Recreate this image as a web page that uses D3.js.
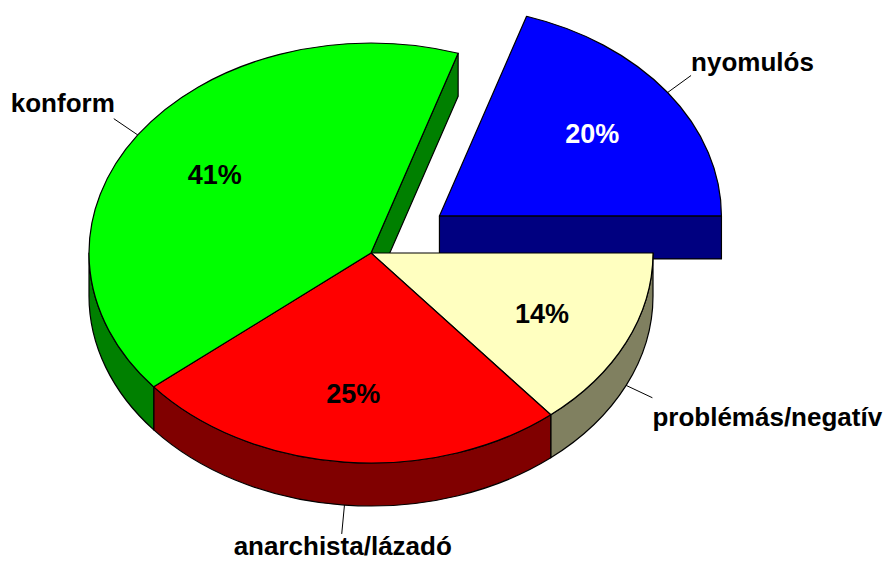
<!DOCTYPE html>
<html><head><meta charset="utf-8">
<script src="https://cdn.jsdelivr.net/npm/d3@7"></script>
<style>body{margin:0;background:#fff}svg{display:block}</style>
</head><body>
<svg id="chart" width="886" height="561"></svg>
<script>
// Data (clockwise order starting at the top-right exploded slice)
const categories = ["nyomulós", "problémás/negatív", "anarchista/lázadó", "konform"];
const values = [20, 14, 25, 41];
const percentLabels = ["20%", "14%", "25%", "41%"];
const explodedFlags = [true, false, false, false];

// Styles
const topColors = ["#0000FF", "#FFFFC0", "#FF0000", "#00FF00"];
const sideColors = ["#000080", "#808060", "#800000", "#008000"];
const pctColors = ["#FFFFFF", "#000000", "#000000", "#000000"];
// label placement relative to leader end: [anchor, dx, dy]
const labelPlace = [["start", 0, -4], ["start", 0, 28], ["middle", 1, 21], ["end", 1, -7]];

const W = 886, H = 561;
const cx = 371, cy = 253, rx = 282, ry = 210, depth = 43, explodeFrac = 0.3;
const fontFam = "'Liberation Sans', Arial, Helvetica, sans-serif";

const svg = d3.select("#chart");
const pie = d3.pie().sort(null).startAngle(Math.PI / 10).endAngle(Math.PI / 10 + 2 * Math.PI);
const arcs = pie(values).map((d, i) => {
  const mid = (d.startAngle + d.endAngle) / 2;
  const off = explodedFlags[i] ? explodeFrac : 0;
  return Object.assign(d, {
    i, mid,
    ox: cx + off * rx * Math.sin(mid),
    oy: cy - off * ry * Math.cos(mid)
  });
});

function pt(a, d, t) { return [a.ox + rx * Math.sin(t), a.oy - ry * Math.cos(t) + (d || 0)]; }
function f(p) { return p[0].toFixed(2) + "," + p[1].toFixed(2); }

function topPath(a) {
  const p0 = pt(a, 0, a.startAngle), p1 = pt(a, 0, a.endAngle);
  const large = (a.endAngle - a.startAngle) > Math.PI ? 1 : 0;
  return `M${a.ox},${a.oy}L${f(p0)}A${rx},${ry} 0 ${large} 1 ${f(p1)}Z`;
}
function wallPath(a, t0, t1) {
  const p0 = pt(a, 0, t0), p1 = pt(a, 0, t1), q1 = pt(a, depth, t1), q0 = pt(a, depth, t0);
  const large = (t1 - t0) > Math.PI ? 1 : 0;
  return `M${f(p0)}A${rx},${ry} 0 ${large} 1 ${f(p1)}L${f(q1)}A${rx},${ry} 0 ${large} 0 ${f(q0)}Z`;
}
function facePath(a, t) {
  const p = pt(a, 0, t), q = pt(a, depth, t);
  return `M${a.ox},${a.oy}L${f(p)}L${f(q)}L${a.ox},${a.oy + depth}Z`;
}
// front intervals of a slice ([pi/2, 3pi/2] modulo 2pi)
function frontParts(a) {
  const parts = [];
  for (let k = -1; k <= 1; k++) {
    const lo = Math.PI / 2 + 2 * Math.PI * k, hi = 3 * Math.PI / 2 + 2 * Math.PI * k;
    const s = Math.max(a.startAngle, lo), e = Math.min(a.endAngle, hi);
    if (e - s > 1e-6) parts.push([s, e]);
  }
  return parts;
}
const n = arcs.length;
function drawSlice(g, a) {
  const prev = arcs[(a.i - 1 + n) % n], next = arcs[(a.i + 1) % n];
  const expStart = explodedFlags[a.i] || explodedFlags[prev.i];
  const expEnd = explodedFlags[a.i] || explodedFlags[next.i];
  // radial faces
  if (expEnd && Math.cos(a.endAngle + Math.PI / 2) < 0)
    g.append("path").attr("d", facePath(a, a.endAngle)).attr("fill", sideColors[a.i]);
  if (expStart && Math.cos(a.startAngle - Math.PI / 2) < 0)
    g.append("path").attr("d", facePath(a, a.startAngle)).attr("fill", sideColors[a.i]);
  frontParts(a).forEach(([s, e]) =>
    g.append("path").attr("d", wallPath(a, s, e)).attr("fill", sideColors[a.i]));
}

const gS = svg.append("g").attr("stroke", "#000").attr("stroke-width", 1.2).attr("stroke-linejoin", "round");
// exploded slices first (they lie behind)
arcs.filter(a => explodedFlags[a.i]).forEach(a => {
  const g = gS.append("g");
  drawSlice(g, a);
  g.append("path").attr("d", topPath(a)).attr("fill", topColors[a.i]);
});
const main = arcs.filter(a => !explodedFlags[a.i]);
const gSide = gS.append("g"), gTop = gS.append("g");
main.forEach(a => drawSlice(gSide, a));
main.forEach(a => gTop.append("path").attr("d", topPath(a)).attr("fill", topColors[a.i]));

// Percent labels
svg.append("g").selectAll("text").data(arcs).join("text")
  .attr("x", a => a.ox + 0.67 * rx * Math.sin(a.mid))
  .attr("y", a => a.oy - 0.67 * ry * Math.cos(a.mid))
  .attr("dy", "0.36em")
  .attr("text-anchor", "middle")
  .attr("font-family", fontFam).attr("font-weight", "bold").attr("font-size", 27)
  .attr("fill", a => pctColors[a.i])
  .text(a => percentLabels[a.i]);

// Leader lines and category labels
const L = 29;
const gL = svg.append("g");
arcs.forEach(a => {
  const front = Math.cos(a.mid) < 0;
  const s = pt(a, front ? depth : 0, a.mid);
  const e = [s[0] + L * Math.sin(a.mid), s[1] - L * Math.cos(a.mid)];
  gL.append("line").attr("x1", s[0]).attr("y1", s[1]).attr("x2", e[0]).attr("y2", e[1])
    .attr("stroke", "#000").attr("stroke-width", 1);
  const [anchor, dx, dy] = labelPlace[a.i];
  gL.append("text").attr("x", e[0] + dx).attr("y", e[1] + dy)
    .attr("text-anchor", anchor)
    .attr("font-family", fontFam).attr("font-weight", "bold").attr("font-size", 26)
    .attr("fill", "#000").text(categories[a.i]);
});
</script>
</body></html>
